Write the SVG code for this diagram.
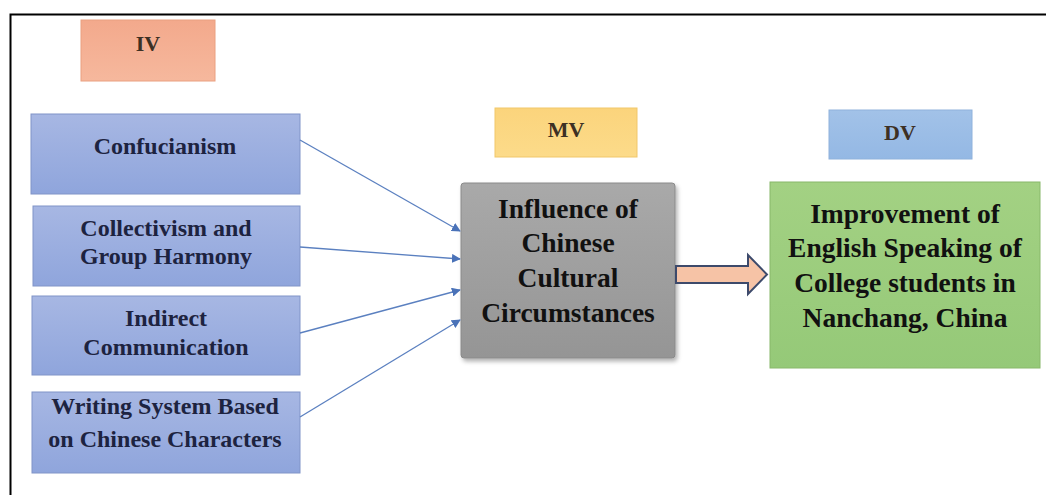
<svg xmlns="http://www.w3.org/2000/svg" width="1046" height="495" viewBox="0 0 1046 495">
<defs>
<linearGradient id="gBlue" x1="0" y1="0" x2="0" y2="1"><stop offset="0" stop-color="#a7b7e3"/><stop offset="1" stop-color="#8fa5dc"/></linearGradient>
<linearGradient id="gGray" x1="0" y1="0" x2="0" y2="1"><stop offset="0" stop-color="#a9a9a9"/><stop offset="1" stop-color="#959595"/></linearGradient>
<linearGradient id="gGreen" x1="0" y1="0" x2="0" y2="1"><stop offset="0" stop-color="#a3d183"/><stop offset="1" stop-color="#95c978"/></linearGradient>
<linearGradient id="gIV" x1="0" y1="0" x2="0" y2="1"><stop offset="0" stop-color="#f3a98c"/><stop offset="1" stop-color="#f6b89d"/></linearGradient>
<linearGradient id="gMV" x1="0" y1="0" x2="0" y2="1"><stop offset="0" stop-color="#fbd47c"/><stop offset="1" stop-color="#fcdb8a"/></linearGradient>
<linearGradient id="gDV" x1="0" y1="0" x2="0" y2="1"><stop offset="0" stop-color="#a2c2e8"/><stop offset="1" stop-color="#94b8e4"/></linearGradient>
<marker id="ah" viewBox="0 0 10 10" refX="9" refY="5" markerWidth="9" markerHeight="9" markerUnits="userSpaceOnUse" orient="auto"><path d="M0,0 L10,5 L0,10 z" fill="#4a72b8"/></marker>
<filter id="sh" x="-10%" y="-10%" width="125%" height="125%"><feDropShadow dx="2" dy="3" stdDeviation="2" flood-color="#000" flood-opacity="0.3"/></filter>
</defs>
<style>
.lbl{font-weight:bold;font-size:22px;text-anchor:middle;fill:#3d3024}
.bt{font-weight:bold;font-size:24px;text-anchor:middle;fill:#1d2340}
.big{font-weight:bold;font-size:27.5px;text-anchor:middle;fill:#111}
.blue{fill:url(#gBlue);stroke:#8094c8;stroke-width:1}
.conn{stroke:#5b80c0;stroke-width:1.3;fill:none;marker-end:url(#ah)}
</style>
<rect x="0" y="0" width="1046" height="495" fill="#fff"/>
<path d="M10.5,495 L10.5,14.5 L1046,14.5" fill="none" stroke="#000" stroke-width="2"/>

<g font-family="Liberation Serif, Times New Roman, serif">
<g id="iv-label"><rect x="81" y="20" width="134" height="61" fill="url(#gIV)" stroke="#eaa080"/><text class="lbl" x="148" y="51">IV</text></g>
<g id="mv-label"><rect x="495" y="108" width="142" height="49" fill="url(#gMV)" stroke="#f1c76a"/><text class="lbl" x="566" y="137">MV</text></g>
<g id="dv-label"><rect x="829" y="110" width="143" height="49" fill="url(#gDV)" stroke="#8fb2dc"/><text class="lbl" x="900" y="140">DV</text></g>

<g id="confucianism"><rect class="blue" x="31" y="114" width="269" height="80"/><text class="bt" x="165" y="154">Confucianism</text></g>
<g id="collectivism"><rect class="blue" x="33" y="206" width="267" height="80"/><text class="bt" x="166" y="236">Collectivism and</text><text class="bt" x="166" y="264">Group Harmony</text></g>
<g id="indirect"><rect class="blue" x="32" y="296" width="268" height="79"/><text class="bt" x="166" y="326">Indirect</text><text class="bt" x="166" y="355">Communication</text></g>
<g id="writing"><rect class="blue" x="32" y="392" width="268" height="81"/><text class="bt" x="165" y="414">Writing System Based</text><text class="bt" x="165" y="447">on Chinese Characters</text></g>

<g id="mediator"><rect x="461" y="183" width="214" height="175" rx="3" fill="url(#gGray)" stroke="#8a8a8a" filter="url(#sh)"/>
<text class="big" x="568" y="218">Influence of</text><text class="big" x="568" y="252">Chinese</text><text class="big" x="568" y="287">Cultural</text><text class="big" x="568" y="322">Circumstances</text></g>

<g id="outcome"><rect x="770" y="182" width="270" height="186" fill="url(#gGreen)" stroke="#88b86a"/>
<text class="big" x="905" y="223">Improvement of</text><text class="big" x="905" y="257">English Speaking of</text><text class="big" x="905" y="292">College students in</text><text class="big" x="905" y="327">Nanchang, China</text></g>
</g>

<g id="connectors">
<line class="conn" x1="300" y1="140" x2="460" y2="231"/>
<line class="conn" x1="300" y1="247" x2="460" y2="259"/>
<line class="conn" x1="300" y1="333" x2="460" y2="290"/>
<line class="conn" x1="300" y1="417" x2="460" y2="320"/>
<path id="block-arrow" d="M676,266 L748,266 L748,255 L767,274.5 L748,294 L748,283 L676,283 Z" fill="#f6c3a6" stroke="#3d4a6b" stroke-width="2"/>
</g>
</svg>
